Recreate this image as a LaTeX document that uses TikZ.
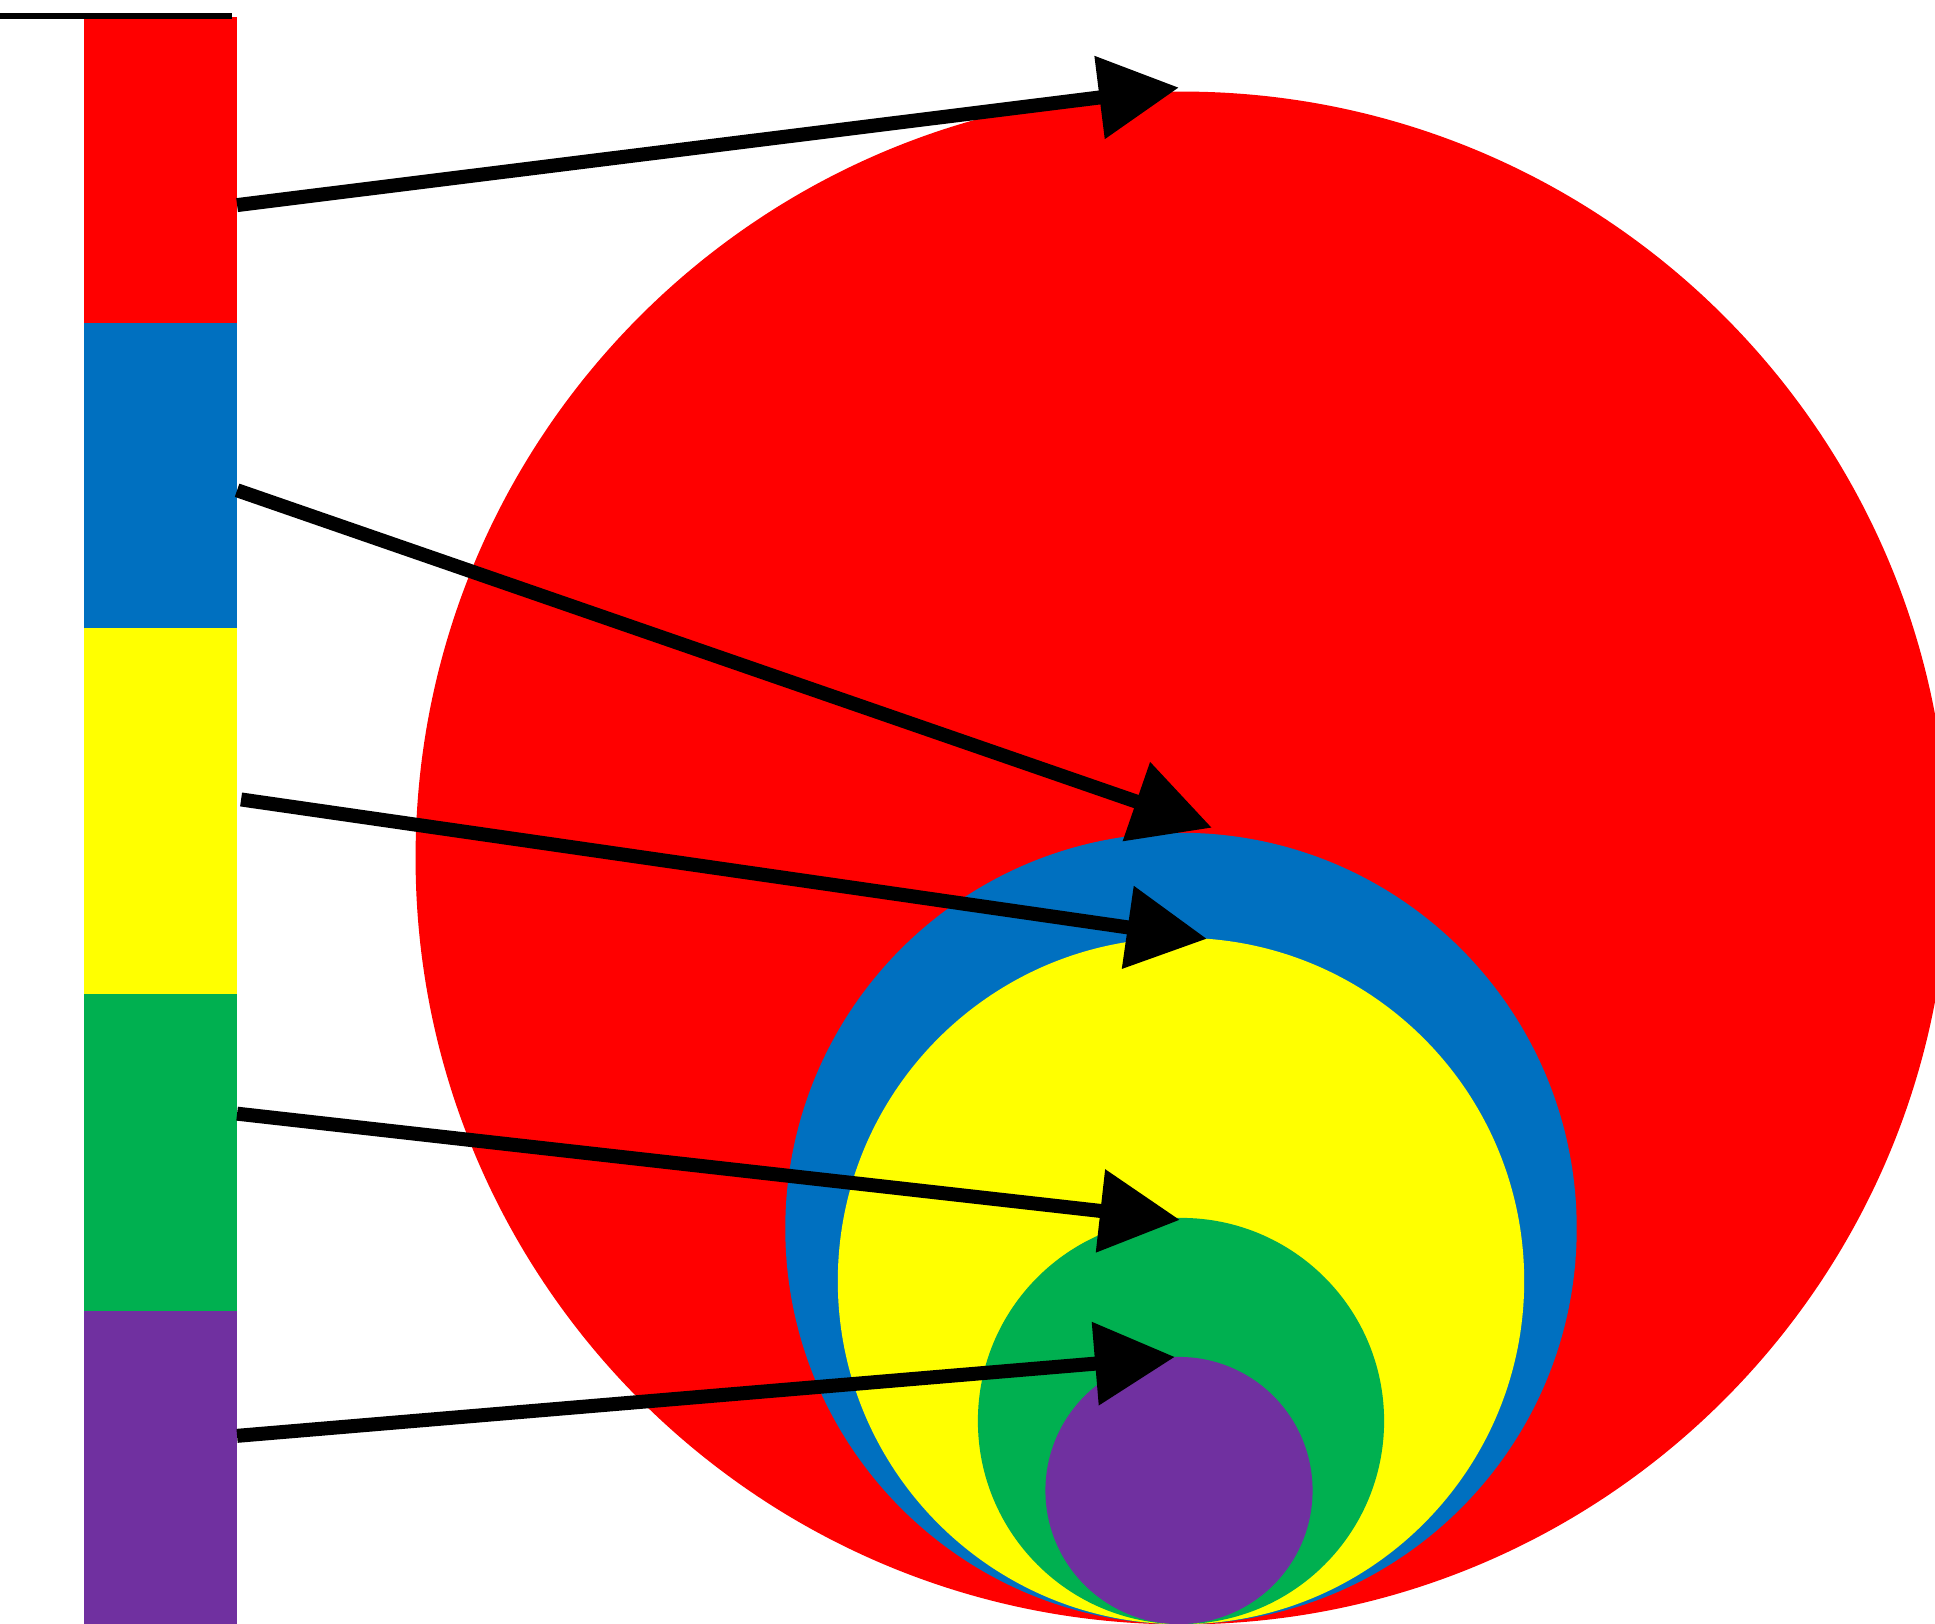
\documentclass[tikz,border=0pt]{standalone}
\usepackage{xcolor}
\usepackage{tikz}
\usetikzlibrary{positioning,calc,arrows.meta}

\definecolor{barred}{HTML}{FF0000}
\definecolor{barblue}{HTML}{0070C0}
\definecolor{baryellow}{HTML}{FFFF00}
\definecolor{bargreen}{HTML}{00B050}
\definecolor{barpurple}{HTML}{7030A0}

\begin{document}
\begin{tikzpicture}[
    x=0.01cm,
    y=-0.01cm,
    node distance=0pt,
    bar/.style={
        fill=#1,
        minimum width=1.53cm,
        inner sep=0pt,
        outer sep=0pt
    },
    disc/.style={
        circle,
        fill=#1,
        inner sep=0pt,
        outer sep=0pt
    },
    arrow/.style={
        -{Triangle[length=8mm, width=8mm]},
        line width=0.14cm
    }
]

\path[use as bounding box, clip] (0,0) rectangle (1935,1624);

\node[disc=barred, minimum size=15.32cm] (reddisc) at (1182,858) {};

\node[disc=barblue, minimum size=7.91cm] (bluedisc) at (1181,1228.5) {};

\node[disc=baryellow, minimum size=6.86cm] (yellowdisc) at (1181,1281) {};

\node[disc=bargreen, minimum size=4.06cm] (greendisc) at (1181,1421) {};

\node[disc=barpurple, minimum size=2.67cm] (purpledisc) at (1179,1490.5) {};

\node[bar=barred, minimum height=3.06cm, anchor=north west] (redbar) at (84,17) {};

\node[bar=barblue, minimum height=3.05cm, below=of redbar] (bluebar) {};

\node[bar=baryellow, minimum height=3.65cm, below=of bluebar] (yellowbar) {};

\node[bar=bargreen, minimum height=3.17cm, below=of yellowbar] (greenbar) {};

\node[bar=barpurple, minimum height=3.14cm, below=of greenbar] (purplebar) {};

\coordinate (topleft) at (0,16);

\draw[line width=0.06cm] (topleft) -- ($(redbar.north west)+(148,-1)$);

\draw[arrow] ($(redbar.east)+(0,35)$) -- ($(reddisc.north)+(-3,-4)$);

\draw[arrow] ($(bluebar.east)+(0,14.5)$) -- ($(bluedisc.north)+(31,-5)$);

\draw[arrow] ($(yellowbar.east)+(4,-11.5)$) -- ($(yellowdisc.north)+(26,1)$);

\draw[arrow] ($(greenbar.east)+(0,-38.5)$) -- ($(greendisc.north)+(-1,2)$);

\draw[arrow] ($(purplebar.east)+(0,-32)$) -- ($(purpledisc.north)+(-4,0)$);

\end{tikzpicture}
\end{document}
